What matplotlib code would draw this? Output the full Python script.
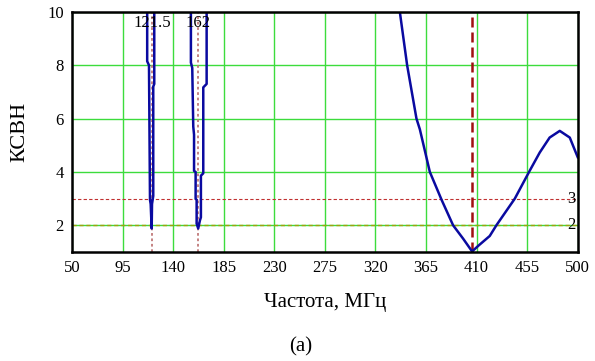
import matplotlib
matplotlib.use("Agg")
import matplotlib.pyplot as plt

# VSWR curve (three visible pieces)
freq_a = [116.9, 116.9, 118.5, 119.4, 120.0, 120.9, 121.2, 122.3, 122.3, 123.2, 123.2]
vswr_a = [10.0, 8.15, 8.0, 2.95, 2.8, 1.88, 2.8, 3.1, 7.2, 7.3, 10.0]

freq_b = [155.8, 155.8, 157.0, 157.9, 158.6, 158.6, 160.0, 160.0, 160.9, 160.9, 162.3,
          163.8, 164.7, 164.7, 166.8, 166.8, 169.8, 169.8]
vswr_b = [10.0, 8.1, 7.9, 5.7, 5.4, 4.04, 4.0, 3.0, 2.95, 2.06, 1.88,
          2.18, 2.3, 3.86, 3.95, 7.17, 7.3, 10.0]

freq_c = [341.7, 348.2, 356.5, 359.5, 368.4, 378.8, 389.1, 398.0, 403.0, 406.0, 412.0,
          421.7, 427.6, 444.0, 457.3, 466.2, 475.0, 484.0, 492.9, 500.0]
vswr_c = [10.0, 8.0, 6.0, 5.6, 4.0, 2.96, 2.0, 1.5, 1.2, 1.02, 1.25,
          1.6, 2.0, 3.0, 4.05, 4.73, 5.29, 5.54, 5.29, 4.55]

marker_freqs = [121.5, 162]
marker_labels = ["121.5", "162"]
centre_freq = 405.5
level_values = [3, 2]
level_labels = ["3", "2"]

x_ticks = [50, 95, 140, 185, 230, 275, 320, 365, 410, 455, 500]
y_ticks = [2, 4, 6, 8, 10]

plt.rcParams['font.family'] = ['Liberation Serif', 'DejaVu Serif']

fig = plt.figure(figsize=(5.95, 3.61), dpi=100)
ax = fig.add_axes([0.121, 0.302, 0.850, 0.665])

ax.set_xlim(50, 500)
ax.set_ylim(1, 10)
ax.set_xticks(x_ticks)
ax.set_yticks(y_ticks)
ax.grid(True, color='#3cdc3c', linewidth=1.0)
ax.tick_params(length=0, labelsize=12, pad=6)

for f in marker_freqs:
    ax.axvline(f, color='#c07878', linestyle=(0, (1.5, 1.5)), linewidth=1.3)
for f, lab in zip(marker_freqs, marker_labels):
    ax.text(f, 9.6, lab, ha='center', va='center', fontsize=12)

ax.axhline(level_values[0], color='#c03030', linestyle=(0, (3, 2)), linewidth=0.8)
ax.axhline(level_values[1], color='#a0a010', linestyle=(0, (3, 2)), linewidth=1.0)
for v, lab in zip(level_values, level_labels):
    ax.text(498, v, lab, ha='right', va='center', fontsize=12)

ax.axvline(centre_freq, color='#a01010', linestyle=(0, (4, 2)), linewidth=1.8)

for fx, vy in [(freq_a, vswr_a), (freq_b, vswr_b), (freq_c, vswr_c)]:
    ax.plot(fx, vy, color='#0a0aa0', linewidth=1.8, clip_on=True)

for sp in ax.spines.values():
    sp.set_color('black')
    sp.set_linewidth(1.8)

ax.set_ylabel('КСВН', fontsize=16, labelpad=13)
ax.set_xlabel('Частота, МГц', fontsize=15, labelpad=12)
fig.text(0.506, 0.038, '(а)', ha='center', va='center', fontsize=15)

fig.savefig('out.png', dpi=100)
